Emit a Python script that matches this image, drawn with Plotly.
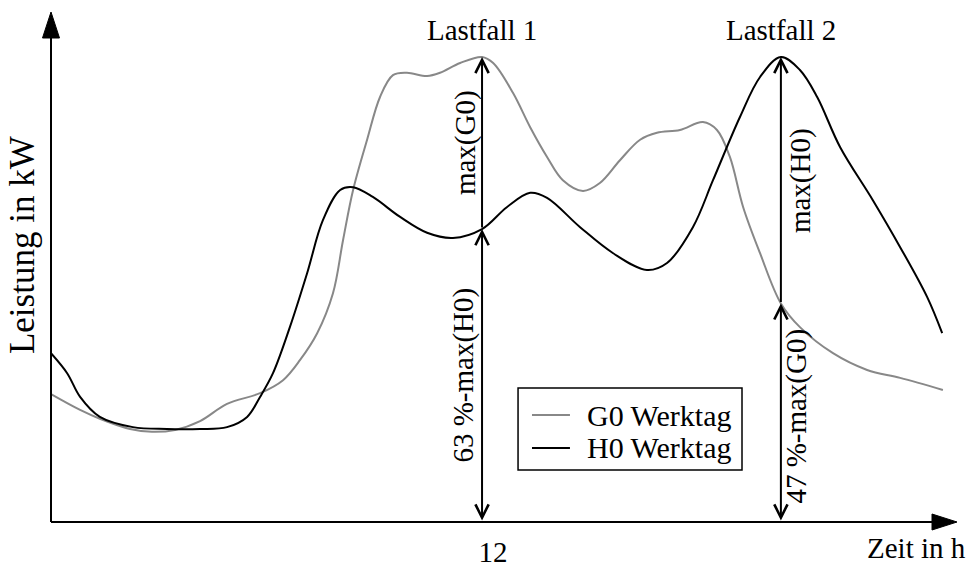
import numpy as np
import plotly.graph_objects as go

# ---- data (time in h, power in % of the series maximum) ----
g0_hours = [0.00, 0.81, 1.36, 2.20, 2.81, 3.45, 4.15, 4.90, 5.82, 6.46, 6.93, 7.41, 7.85, 8.13,
            8.41, 8.80, 9.16, 9.52, 9.91, 10.47, 10.83, 11.39, 12.00, 12.31, 12.86, 13.34, 13.81,
            14.25, 14.81, 15.28, 15.84, 16.40, 16.87, 17.51, 18.15, 18.54, 18.90, 19.27, 19.74,
            20.32, 20.85, 21.77, 22.72, 23.64, 24.83]
g0_values = [27.5, 24.1, 22.2, 20.0, 19.4, 19.8, 21.7, 25.4, 27.7, 30.5, 34.8, 40.6, 49.2, 60.6,
             71.4, 82.2, 91.4, 96.1, 96.6, 95.9, 96.6, 98.7, 100.0, 98.7, 92.3, 84.9, 78.5,
             73.5, 71.2, 72.9, 77.8, 82.2, 83.7, 84.3, 86.0, 84.3, 78.5, 67.7, 57.8,
             47.0, 41.9, 36.3, 32.7, 31.0, 28.4]

h0_hours = [0.00, 0.45, 0.81, 1.36, 2.28, 3.23, 4.15, 4.90, 5.46, 5.82, 6.18, 6.65, 7.13, 7.57,
            8.05, 8.41, 8.96, 9.72, 10.47, 11.19, 12.00, 12.69, 13.34, 13.81, 14.73, 15.65,
            16.59, 17.15, 17.87, 18.43, 19.18, 19.74, 20.32, 20.85, 21.33, 21.97, 22.88, 23.64,
            24.39, 24.81]
h0_values = [36.3, 32.0, 26.9, 22.6, 20.4, 20.0, 20.0, 20.4, 22.6, 26.9, 32.0, 41.9, 53.5, 64.9,
             71.4, 72.0, 69.9, 65.6, 62.2, 61.1, 63.0, 67.7, 70.8, 69.7, 63.4, 57.8,
             54.2, 55.7, 63.4, 73.5, 87.1, 95.7, 100.0, 97.2, 91.4, 80.6, 69.2, 59.1,
             48.4, 40.6]

series_names = ["G0 Werktag", "H0 Werktag"]
series_colors = ["#888888", "black"]
x_tick_values = [12]
x_tick_labels = ["12"]
case_labels = ["Lastfall 1", "Lastfall 2"]

# ---- derived quantities ----
g0_max = max(g0_values)
h0_max = max(h0_values)
t1 = g0_hours[int(np.argmax(g0_values))]
t2 = h0_hours[int(np.argmax(h0_values))]
h0_at_t1 = float(np.interp(t1, h0_hours, h0_values))
g0_at_t2 = float(np.interp(t2, g0_hours, g0_values))
pct1 = round(100 * h0_at_t1 / h0_max)
pct2 = round(100 * g0_at_t2 / g0_max)

FONT = "Liberation Serif, Times New Roman, serif"
FS = 29

fig = go.Figure()
fig.add_trace(go.Scatter(x=g0_hours, y=g0_values, mode="lines", name=series_names[0],
                         line=dict(color=series_colors[0], width=2, shape="spline", smoothing=1)))
fig.add_trace(go.Scatter(x=h0_hours, y=h0_values, mode="lines", name=series_names[1],
                         line=dict(color=series_colors[1], width=2, shape="spline", smoothing=1)))

anns = []
arrow = dict(xref="x", yref="y", axref="x", ayref="y", text="", showarrow=True,
             arrowcolor="black", arrowwidth=2, arrowsize=1.3, arrowhead=5,
             standoff=0, startstandoff=0, font=dict(size=1))
# Lastfall 1
anns.append(dict(arrow, x=t1, y=g0_max, ax=t1, ay=h0_at_t1))
anns.append(dict(arrow, x=t1, y=h0_at_t1, ax=t1, ay=0, arrowside="end+start",
                 startarrowhead=5, startarrowsize=1.3))
# Lastfall 2
anns.append(dict(arrow, x=t2, y=h0_max, ax=t2, ay=g0_at_t2))
anns.append(dict(arrow, x=t2, y=g0_at_t2, ax=t2, ay=0, arrowside="end+start",
                 startarrowhead=5, startarrowsize=1.3))

txt = dict(showarrow=False, font=dict(family=FONT, size=FS, color="black"))
anns.append(dict(txt, text=case_labels[0], xref="x", yref="y", x=t1, y=g0_max,
                 yanchor="middle", yshift=27))
anns.append(dict(txt, text=case_labels[1], xref="x", yref="y", x=t2, y=h0_max,
                 yanchor="middle", yshift=27))
anns.append(dict(txt, text="max(G0)", xref="x", yref="y", x=t1, y=(g0_max + h0_at_t1) / 2,
                 textangle=-90, xshift=-17))
anns.append(dict(txt, text=f"{pct1} %-max(H0)", xref="x", yref="y", x=t1, y=h0_at_t1 / 2,
                 textangle=-90, xshift=-19))
anns.append(dict(txt, text="max(H0)", xref="x", yref="y", x=t2, y=(h0_max + g0_at_t2) / 2,
                 textangle=-90, xshift=19))
anns.append(dict(txt, text=f"{pct2} %-max(G0)", xref="x", yref="y", x=t2, y=g0_at_t2 / 2,
                 textangle=-90, xshift=16, yshift=-3))
anns.append(dict(txt, text="Zeit in h", xref="paper", yref="paper", x=1.012, y=-0.0863,
                 xanchor="right", yanchor="bottom"))
anns.append(dict(showarrow=False, font=dict(family=FONT, size=35, color="black"),
                 text="Leistung in kW", xref="paper", yref="paper", x=-0.032, y=0.543,
                 xanchor="center", yanchor="middle", textangle=-90))

# ---- manual legend (box, sample lines, labels) ----
LEG_X0, LEG_X1, LEG_Y0, LEG_Y1 = 0.5155, 0.7627, 0.1020, 0.2627
LEG_LINE_X0, LEG_LINE_X1, LEG_TEXT_X = 0.5309, 0.5728, 0.5895
LEG_ROWS = [0.2098, 0.1451]

shapes = [
    dict(type="line", xref="paper", yref="paper", x0=0, y0=0, x1=0, y1=0.97,
         line=dict(color="black", width=2)),
    dict(type="line", xref="paper", yref="paper", x0=0, y0=0, x1=0.98, y1=0,
         line=dict(color="black", width=2)),
    dict(type="path", xref="paper", yref="paper", xsizemode="pixel", ysizemode="pixel",
         xanchor=0, yanchor=1, path="M0,0 L-8.5,-26 L8.5,-26 Z",
         fillcolor="black", line=dict(color="black", width=1)),
    dict(type="path", xref="paper", yref="paper", xsizemode="pixel", ysizemode="pixel",
         xanchor=1, yanchor=0, path="M0,0 L-25,8 L-25,-8 Z",
         fillcolor="black", line=dict(color="black", width=1)),
    dict(type="rect", xref="paper", yref="paper", x0=LEG_X0, x1=LEG_X1, y0=LEG_Y0, y1=LEG_Y1,
         fillcolor="white", line=dict(color="black", width=1.5), layer="above"),
]
for name, color, ry in zip(series_names, series_colors, LEG_ROWS):
    shapes.append(dict(type="line", xref="paper", yref="paper", x0=LEG_LINE_X0, x1=LEG_LINE_X1,
                       y0=ry, y1=ry, line=dict(color=color, width=2), layer="above"))
    anns.append(dict(showarrow=False, font=dict(family=FONT, size=30, color="black"),
                     text=name, xref="paper", yref="paper", x=LEG_TEXT_X, y=ry,
                     xanchor="left", yanchor="middle"))

PX_PER_H = 35.92
PX_PER_V = 4.65
fig.update_layout(
    width=973, height=567,
    margin=dict(l=51, r=16, t=12, b=45, autoexpand=False),
    paper_bgcolor="white", plot_bgcolor="white",
    font=dict(family=FONT, size=FS, color="black"),
    showlegend=False,
    xaxis=dict(range=[0, 906 / PX_PER_H], showgrid=False, zeroline=False, showline=False,
               tickvals=x_tick_values, ticktext=x_tick_labels, ticks="", automargin=False,
               tickfont=dict(family=FONT, size=FS, color="black"),
               ticklabelstandoff=10, ticklabelshift=11),
    yaxis=dict(range=[0, 510 / PX_PER_V], showgrid=False, zeroline=False, showline=False,
               showticklabels=False, ticks="", automargin=False),
    annotations=anns,
    shapes=shapes,
)

fig.write_html("out.html", config={"displayModeBar": False},
               post_script="document.body.style.margin='0';")
